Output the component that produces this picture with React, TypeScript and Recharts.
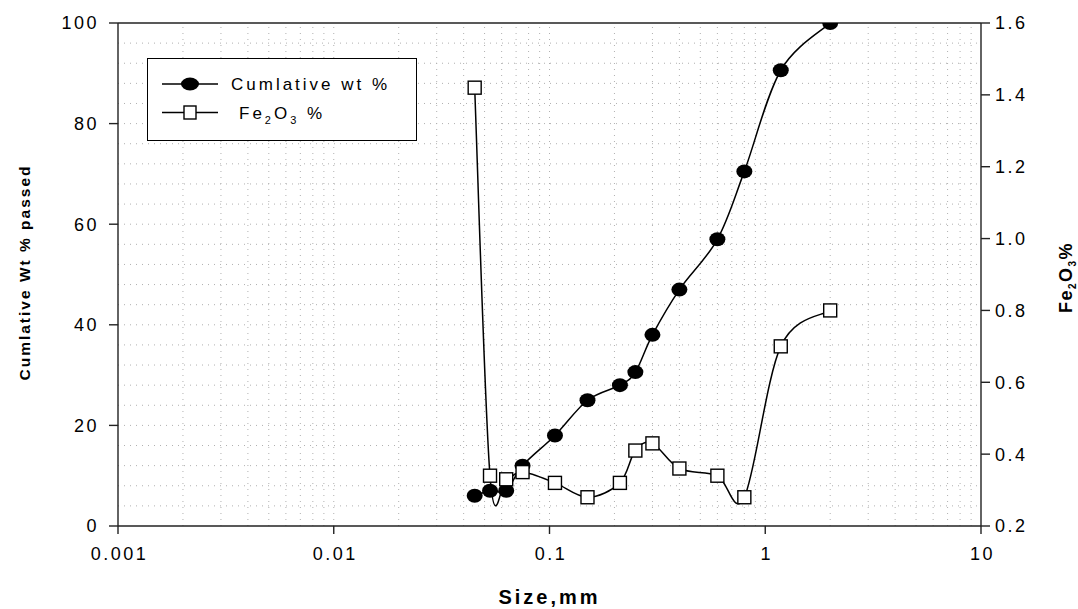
import React from 'react';
import {
  ComposedChart,
  Line,
  XAxis,
  YAxis,
  ReferenceLine,
  Legend,
  Label,
} from 'recharts';

// sieve sizes (mm)
const sizes = [0.045, 0.053, 0.063, 0.075, 0.106, 0.15, 0.212, 0.25, 0.3, 0.4, 0.6, 0.8, 1.18, 2];
// cumulative wt % passed
const cumWt = [6, 7, 7, 12, 18, 25, 28, 30.6, 38, 47, 57, 70.5, 90.6, 100];
// Fe2O3 %
const fe2o3 = [1.42, 0.34, 0.33, 0.35, 0.32, 0.28, 0.32, 0.41, 0.43, 0.36, 0.34, 0.28, 0.7, 0.8];

const xTicks = [0.001, 0.01, 0.1, 1, 10];
const leftTicks = [0, 20, 40, 60, 80, 100];
const rightTicks = [0.2, 0.4, 0.6, 0.8, 1.0, 1.2, 1.4, 1.6];

// dotted minor grid
const gridX: number[] = [];
[0.001, 0.01, 0.1, 1].forEach((d) => {
  for (let m = 1; m <= 9; m++) {
    if (!(d === 0.001 && m === 1)) gridX.push(+(d * m).toPrecision(3));
  }
});
const gridY: number[] = [];
for (let v = 4; v < 100; v += 4) gridY.push(v);

const data = sizes.map((s, i) => ({ size: s, cum: cumWt[i], fe: fe2o3[i] }));

const FONT = '"Liberation Sans", Arial, sans-serif';

// Excel-like smoothed line (catmull-rom style bezier)
const smoothCurve = (context: any) => {
  let pts: number[][] = [];
  return {
    areaStart() {},
    areaEnd() {},
    lineStart() {
      pts = [];
    },
    point(x: number, y: number) {
      pts.push([+x, +y]);
    },
    lineEnd() {
      const n = pts.length;
      if (!n) return;
      context.moveTo(pts[0][0], pts[0][1]);
      for (let i = 0; i < n - 1; i++) {
        const p0 = pts[Math.max(i - 1, 0)];
        const p1 = pts[i];
        const p2 = pts[i + 1];
        const p3 = pts[Math.min(i + 2, n - 1)];
        context.bezierCurveTo(
          p1[0] + (p2[0] - p0[0]) / 6,
          p1[1] + (p2[1] - p0[1]) / 6,
          p2[0] - (p3[0] - p1[0]) / 6,
          p2[1] - (p3[1] - p1[1]) / 6,
          p2[0],
          p2[1]
        );
      }
    },
  };
};

const CircleDot = (p: any) => (
  <ellipse key={`c${p.index}`} cx={p.cx} cy={p.cy} rx={8} ry={7} fill="#000" />
);
const SquareDot = (p: any) => (
  <rect key={`s${p.index}`} x={p.cx - 6.5} y={p.cy - 6.5} width={13} height={13} fill="#fff" stroke="#000" strokeWidth={1.4} />
);

const tickStyle = { fontSize: 18, fontFamily: FONT, fill: '#000', letterSpacing: 2.5 };

const LeftTick = (p: any) => (
  <text x={p.x} y={p.y} dy="0.36em" textAnchor="end" style={tickStyle}>
    {p.payload.value}
  </text>
);
const RightTick = (p: any) => (
  <text x={p.x} y={p.y} dy="0.36em" textAnchor="start" style={tickStyle}>
    {Number(p.payload.value).toFixed(1)}
  </text>
);
const BottomTick = (p: any) => (
  <text x={p.x + 1.5} y={p.y} dy="0.71em" textAnchor="middle" style={tickStyle}>
    {String(p.payload.value)}
  </text>
);

const legendText = { fontSize: 17, fontFamily: FONT, fill: '#000', letterSpacing: 3 };

const renderLegend = (props: any) => {
  const { payload = [] } = props;
  return (
    <div
      style={{
        width: 270,
        height: 83,
        border: '1.5px solid #000',
        boxSizing: 'border-box',
        background: '#fff',
      }}
    >
      <svg width={267} height={80} style={{ display: 'block' }}>
        {payload.map((entry: any, i: number) => {
          const y = 25 + i * 28.5;
          const isCum = entry.dataKey === 'cum';
          return (
            <g key={entry.dataKey}>
              <line x1={14} x2={70} y1={y} y2={y} stroke="#000" strokeWidth={1.4} />
              {isCum ? (
                <ellipse cx={42} cy={y} rx={9} ry={6.5} fill="#000" />
              ) : (
                <rect x={36} y={y - 6.5} width={12} height={13} fill="#fff" stroke="#000" strokeWidth={1.4} />
              )}
              {isCum ? (
                <text x={83} y={y} dy="0.36em" style={legendText}>
                  Cumlative wt %
                </text>
              ) : (
                <text x={91} y={y} dy="0.36em" style={legendText}>
                  Fe
                  <tspan fontSize={11} dy={5}>2</tspan>
                  <tspan dy={-5}>O</tspan>
                  <tspan fontSize={11} dy={5}>3</tspan>
                  <tspan dy={-5}> %</tspan>
                </text>
              )}
            </g>
          );
        })}
      </svg>
    </div>
  );
};

export default function App() {
  return (
    <div style={{ position: 'absolute', left: 0, top: 0, background: '#fff' }}>
      <ComposedChart
        width={1078}
        height={609}
        data={data}
        margin={{ top: 23, right: 37, bottom: 43, left: 58 }}
      >
        <XAxis
          dataKey="size"
          type="number"
          scale="log"
          domain={[0.001, 10]}
          ticks={xTicks}
          allowDataOverflow
          height={40}
          tickSize={8}
          tickMargin={13}
          stroke="#222"
          strokeWidth={1.4}
          tick={BottomTick}
        >
          <Label
            content={(p: any) => {
              const vb = p.viewBox || {};
              return (
                <text
                  x={vb.x + vb.width / 2}
                  y={vb.y + 78}
                  textAnchor="middle"
                  style={{ fontSize: 20, fontWeight: 'bold', fontFamily: FONT, letterSpacing: 3, fill: '#000' }}
                >
                  Size,mm
                </text>
              );
            }}
          />
        </XAxis>
        <YAxis
          yAxisId="left"
          domain={[0, 100]}
          ticks={leftTicks}
          width={60}
          tickSize={9}
          tickMargin={10}
          stroke="#222"
          strokeWidth={1.4}
          tick={LeftTick}
          allowDataOverflow
        >
          <Label
            content={(p: any) => {
              const vb = p.viewBox || {};
              const cx = vb.x - 34;
              const cy = vb.y + vb.height / 2 - 2;
              return (
                <text
                  x={cx}
                  y={cy}
                  dy="0.36em"
                  textAnchor="middle"
                  transform={`rotate(-90, ${cx}, ${cy})`}
                  style={{ fontSize: 15.5, fontWeight: 'bold', fontFamily: FONT, letterSpacing: 2, fill: '#000' }}
                >
                  Cumlative Wt % passed
                </text>
              );
            }}
          />
        </YAxis>
        <YAxis
          yAxisId="right"
          orientation="right"
          domain={[0.2, 1.6]}
          ticks={rightTicks}
          width={60}
          tickSize={9}
          tickMargin={5}
          stroke="#222"
          strokeWidth={1.4}
          tick={RightTick}
          allowDataOverflow
        >
          <Label
            content={(p: any) => {
              const vb = p.viewBox || {};
              const cx = vb.x + 85;
              const cy = vb.y + vb.height / 2 + 3;
              return (
                <text
                  x={cx}
                  y={cy}
                  dy="0.36em"
                  textAnchor="middle"
                  transform={`rotate(-90, ${cx}, ${cy})`}
                  style={{ fontSize: 18, fontWeight: 'bold', fontFamily: FONT, letterSpacing: 1.5, fill: '#000' }}
                >
                  Fe
                  <tspan fontSize={10} dy={4}>2</tspan>
                  <tspan dy={-4}>O</tspan>
                  <tspan fontSize={10} dy={4}>3</tspan>
                  <tspan dy={-4}>%</tspan>
                </text>
              );
            }}
          />
        </YAxis>

        {gridX.map((v) => (
          <ReferenceLine key={`gx${v}`} x={v} yAxisId="left" stroke="#b0b0b0" strokeDasharray="1 5" strokeWidth={1} />
        ))}
        {gridY.map((v) => (
          <ReferenceLine key={`gy${v}`} y={v} yAxisId="left" stroke="#b0b0b0" strokeDasharray="1 5" strokeWidth={1} />
        ))}
        <ReferenceLine y={100} yAxisId="left" stroke="#222" strokeWidth={1.4} />

        <Legend
          content={renderLegend}
          layout="horizontal"
          verticalAlign="middle"
          align="center"
          wrapperStyle={{ left: 147, top: 58, width: 270, height: 83 }}
        />

        <Line
          yAxisId="left"
          dataKey="cum"
          name="Cumlative wt %"
          type={smoothCurve as any}
          stroke="#000"
          strokeWidth={1.5}
          dot={CircleDot}
          activeDot={false}
          isAnimationActive={false}
        />
        <Line
          yAxisId="right"
          dataKey="fe"
          name="Fe2O3 %"
          type={smoothCurve as any}
          stroke="#000"
          strokeWidth={1.5}
          dot={SquareDot}
          activeDot={false}
          isAnimationActive={false}
        />
      </ComposedChart>
    </div>
  );
}
